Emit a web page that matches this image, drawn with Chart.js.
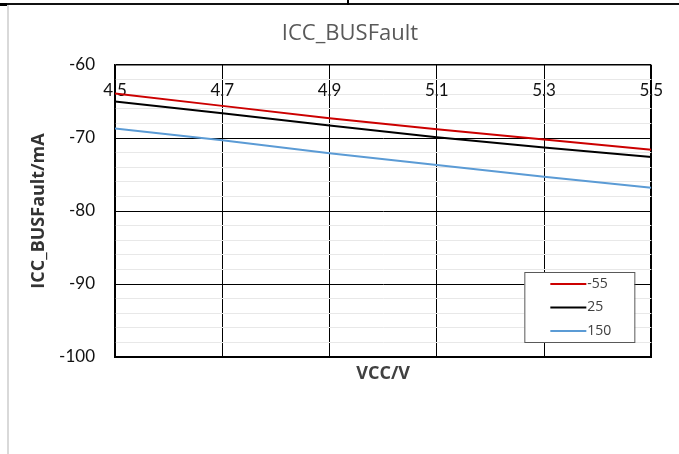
<!DOCTYPE html>
<html>
<head>
<meta charset="utf-8">
<script src="https://cdn.jsdelivr.net/npm/chart.js@4"></script>
<style>
  html, body { margin:0; padding:0; background:#fff; }
  #wrap { position:relative; width:679px; height:454px; overflow:hidden; }
  .deco { position:absolute; }
  canvas { position:absolute; left:0; top:0; }
</style>
</head>
<body>
<div id="wrap">
  <div class="deco" style="left:0;top:3px;width:7px;height:3px;background:#000"></div>
  <div class="deco" style="left:7px;top:3px;width:672px;height:2px;background:#111"></div>
  <div class="deco" style="left:347px;top:0;width:2px;height:5px;background:#000"></div>
  <div class="deco" style="left:7px;top:5px;width:2px;height:449px;background:#d9d9d9"></div>
  <canvas id="c" width="679" height="454"></canvas>
</div>
<script>
const vcc = [4.5, 4.7, 4.9, 5.1, 5.3, 5.5];
const seriesNames = ['-55', '25', '150'];
const s55  = [-63.9, -65.6, -67.3, -68.8, -70.2, -71.6];
const s25  = [-65.0, -66.6, -68.3, -69.9, -71.3, -72.6];
const s150 = [-68.7, -70.3, -72.1, -73.7, -75.3, -76.8];
const yMin = -100, yMax = -60, yMajor = 10, yMinor = 2;
const xMin = 4.5, xMax = 5.5, xStep = 0.2;
const colors = ['#cc0000', '#000000', '#5b9bd5'];

const toPts = arr => arr.map((v, i) => ({ x: vcc[i], y: v }));
const allSeries = [s55, s25, s150];

const legendBox = {
  id: 'legendBox',
  afterDatasetsDraw(chart) {
    const ctx = chart.ctx, a = chart.chartArea;
    const left = a.right - 127, top = a.top + 207, w = 110, h = 70;
    ctx.save();
    ctx.fillStyle = '#fff';
    ctx.fillRect(left, top, w, h);
    ctx.strokeStyle = '#595959';
    ctx.lineWidth = 1;
    ctx.strokeRect(left + 0.5, top + 0.5, w, h);
    chart.data.datasets.forEach((ds, i) => {
      const y = top + 12 + i * 23.5;
      ctx.strokeStyle = ds.borderColor;
      ctx.lineWidth = 2;
      ctx.beginPath();
      ctx.moveTo(left + 26, y);
      ctx.lineTo(left + 62, y);
      ctx.stroke();
      ctx.fillStyle = '#404040';
      ctx.font = '14px "Open Sans"';
      ctx.textBaseline = 'middle';
      ctx.textAlign = 'left';
      ctx.fillText(ds.label, left + 63, y);
    });
    ctx.restore();
  }
};

new Chart(document.getElementById('c'), {
  type: 'line',
  data: {
    datasets: allSeries.map((s, i) => ({
      label: seriesNames[i],
      data: toPts(s),
      borderColor: colors[i],
      backgroundColor: colors[i],
      borderWidth: 2,
      pointRadius: 0,
      tension: 0,
      xAxisID: 'x',
      yAxisID: 'y'
    }))
  },
  options: {
    responsive: false,
    animation: false,
    devicePixelRatio: 1,
    layout: { padding: { left: 47, right: 26, top: 10, bottom: 69.7 } },
    plugins: {
      legend: { display: false },
      tooltip: { enabled: false },
      title: {
        display: true,
        text: 'ICC_BUSFault',
        color: '#595959',
        font: { family: 'Open Sans', size: 22, weight: 'normal', lineHeight: 1.2 },
        padding: { top: 10.8, bottom: 17.8 }
      }
    },
    scales: {
      x: {
        type: 'linear', position: 'bottom', min: xMin, max: xMax,
        ticks: { stepSize: xStep, display: false, maxTicksLimit: 100 },
        grid: { color: '#000', lineWidth: c => (c.tick && c.tick.value > xMax - 1e-6 ? 2 : 1), drawTicks: false },
        border: { display: true, color: '#000', width: 2 },
        title: { display: true, text: 'VCC/V', color: '#404040',
          font: { family: 'Open Sans', size: 18, weight: 'bold', lineHeight: 1.2 },
          padding: { top: 0, bottom: 0 } },
        afterFit: s => { s.height = 27.3; }
      },
      x2: {
        type: 'linear', position: 'top', min: xMin, max: xMax,
        ticks: { stepSize: xStep, maxTicksLimit: 100, autoSkip: false, mirror: true,
          font: { family: 'Lato', size: 17, lineHeight: 1.2 }, color: '#111',
          padding: 15.8, callback: v => Number(v).toFixed(1) },
        grid: { display: false, drawTicks: false },
        border: { display: false },
        afterFit: s => { s.height = 0; }
      },
      y: {
        type: 'linear', min: yMin, max: yMax, z: -1,
        ticks: { stepSize: yMinor, maxTicksLimit: 100, autoSkip: false,
          font: { family: 'Lato', size: 17 }, color: '#111', padding: 20,
          callback: v => (Math.round(v) % yMajor === 0 ? v : '') },
        grid: { color: c => (Math.round(c.tick.value) % yMajor === 0 ? '#000' : '#e8e8e8'),
          lineWidth: c => (Math.round(c.tick.value) === yMax ? 1.5 : 1), drawTicks: false },
        border: { display: true, color: '#000', width: 1.5 },
        title: { display: true, text: 'ICC_BUSFault/mA', color: '#333',
          font: { family: 'Open Sans', size: 18, weight: 'bold', lineHeight: 1.2 },
          padding: { top: -18.8, bottom: 0 } },
        afterFit: s => { s.width = 68; }
      }
    }
  },
  plugins: [legendBox]
});
</script>
</body>
</html>
